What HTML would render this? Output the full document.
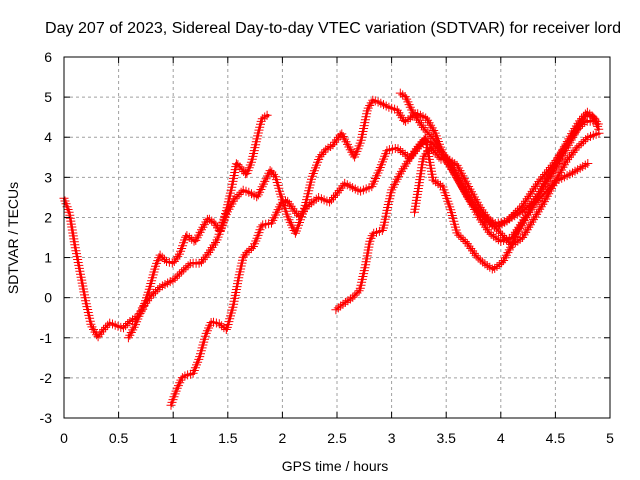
<!DOCTYPE html>
<html><head><meta charset="utf-8"><style>
body{margin:0;background:#fff;}
svg{display:block;font-family:"Liberation Sans",sans-serif;}
</style></head><body>
<svg id="chart" width="640" height="480" viewBox="0 0 640 480">
<rect width="640" height="480" fill="#fff"/>
<text x="333" y="33" font-size="15.5" text-anchor="middle" textLength="576" lengthAdjust="spacingAndGlyphs">Day 207 of 2023, Sidereal Day-to-day VTEC variation (SDTVAR) for receiver lord</text>
<g id="grid"></g>
<g id="series"></g>
<rect x="64" y="57" width="546" height="361" fill="none" stroke="#000" stroke-width="1"/>
<g id="axes"></g>
<text x="335" y="471" font-size="14" text-anchor="middle">GPS time / hours</text>
<text x="18" y="238" font-size="14" text-anchor="middle" transform="rotate(-90 18 238)">SDTVAR / TECUs</text>
</svg>
<script>
const xTicks=[0,0.5,1,1.5,2,2.5,3,3.5,4,4.5,5];
const xTickLabels=["0","0.5","1","1.5","2","2.5","3","3.5","4","4.5","5"];
const yTicks=[-3,-2,-1,0,1,2,3,4,5,6];
const yTickLabels=["-3","-2","-1","0","1","2","3","4","5","6"];
const track1=[[0,2.48],[0.05,2.1],[0.1,1.3],[0.15,0.6],[0.2,-0.1],[0.25,-0.7],[0.31,-0.98],[0.36,-0.8],[0.42,-0.63],[0.48,-0.7],[0.54,-0.76],[0.6,-0.6],[0.66,-0.5],[0.72,-0.3],[0.78,0.2],[0.84,0.8],[0.88,1.06],[0.94,0.9],[1.0,0.86],[1.06,1.1],[1.12,1.56],[1.2,1.39],[1.26,1.7],[1.32,1.98],[1.38,1.85],[1.43,1.64],[1.49,2.2],[1.54,2.8],[1.58,3.36],[1.63,3.2],[1.67,3.06],[1.72,3.4],[1.77,4.0],[1.81,4.45],[1.86,4.55],[1.88,4.55]];
const track2=[[0.59,-1.0],[0.65,-0.7],[0.72,-0.24],[0.8,0.05],[0.88,0.26],[0.94,0.35],[1.0,0.44],[1.08,0.65],[1.16,0.86],[1.25,0.86],[1.32,1.1],[1.4,1.43],[1.49,2.1],[1.56,2.45],[1.64,2.68],[1.7,2.62],[1.77,2.51],[1.83,2.85],[1.89,3.18],[1.94,3.0],[1.98,2.6],[2.05,2.0],[2.12,1.6],[2.2,2.2],[2.27,3.0],[2.34,3.5],[2.4,3.7],[2.46,3.8],[2.54,4.1],[2.6,3.8],[2.66,3.5],[2.72,3.9],[2.78,4.7],[2.83,4.93],[2.9,4.85],[2.97,4.75],[3.05,4.68],[3.12,4.38],[3.18,4.5],[3.23,4.6],[3.32,4.47],[3.4,4.1],[3.47,3.6],[3.6,3.0],[3.7,2.5],[3.8,2.1],[3.95,1.85],[4.05,1.9],[4.2,2.3],[4.35,2.9],[4.5,3.4],[4.6,3.8],[4.7,4.2],[4.78,4.4],[4.85,4.4]];
const track3=[[0.98,-2.68],[1.03,-2.3],[1.08,-2.0],[1.12,-1.93],[1.18,-1.9],[1.24,-1.5],[1.3,-0.9],[1.35,-0.6],[1.42,-0.65],[1.49,-0.8],[1.55,-0.2],[1.6,0.5],[1.64,1.0],[1.68,1.15],[1.73,1.25],[1.77,1.5],[1.81,1.81],[1.9,1.86],[1.99,2.36],[2.04,2.43],[2.1,2.2],[2.16,2.0],[2.22,2.26],[2.33,2.5],[2.43,2.38],[2.5,2.6],[2.57,2.85],[2.64,2.75],[2.71,2.65],[2.82,2.77],[2.89,3.2],[2.96,3.68],[3.05,3.73],[3.17,3.48],[3.3,3.93],[3.37,3.85],[3.5,3.5],[3.6,3.0],[3.7,2.5],[3.8,2.0],[3.9,1.6],[4.0,1.4],[4.1,1.5],[4.2,1.9],[4.3,2.3],[4.4,2.6],[4.5,2.9],[4.65,3.1],[4.8,3.35]];
const track4=[[2.49,-0.3],[2.56,-0.15],[2.64,0.0],[2.71,0.19],[2.76,0.8],[2.8,1.4],[2.83,1.6],[2.92,1.68],[2.96,2.2],[3.0,2.68],[3.08,3.1],[3.17,3.5],[3.25,3.8],[3.31,3.98],[3.38,2.93],[3.47,2.76],[3.54,2.2],[3.6,1.6],[3.69,1.36],[3.78,1.02],[3.85,0.85],[3.93,0.7],[4.02,0.9],[4.08,1.2],[4.15,1.6],[4.25,2.1],[4.35,2.6],[4.45,3.1],[4.55,3.6],[4.65,4.1],[4.72,4.4],[4.79,4.63],[4.85,4.5],[4.9,4.18]];
const track5=[[3.21,2.13],[3.25,2.8],[3.29,3.5],[3.36,3.75],[3.45,3.45],[3.52,3.45],[3.6,3.3],[3.7,2.8],[3.8,2.3],[3.9,1.9],[4.0,1.6],[4.1,1.3],[4.2,1.5],[4.3,1.95],[4.4,2.4],[4.5,2.9],[4.6,3.4],[4.7,3.75],[4.8,4.0],[4.9,4.1]];
const track6=[[3.08,5.1],[3.13,5.0],[3.17,4.75],[3.2,4.6],[3.3,4.2],[3.4,3.9],[3.48,3.5],[3.55,3.2],[3.65,2.75],[3.75,2.3],[3.85,1.95],[3.95,1.75],[4.02,1.85],[4.1,2.0],[4.2,2.15],[4.3,2.4],[4.45,3.0],[4.6,3.7],[4.7,4.2],[4.78,4.55],[4.85,4.5],[4.9,4.3]];
const tracks=[track1,track2,track3,track4,track5,track6];

const NS="http://www.w3.org/2000/svg";
const X0=64,X1=610,Y0=418,Y1=57;
function xs(v){return X0+(v-0)/(5-0)*(X1-X0);}
function ys(v){return Y0-(v+3)/(6+3)*(Y0-Y1);}
const grid=document.getElementById('grid'),axes=document.getElementById('axes'),ser=document.getElementById('series');
function mk(tag,attrs,parent){const e=document.createElementNS(NS,tag);for(const k in attrs)e.setAttribute(k,attrs[k]);parent.appendChild(e);return e;}
xTicks.forEach((t,i)=>{
  const x=xs(t);
  if(i>0&&i<xTicks.length-1){const g=mk('line',{x1:x,x2:x,y1:Y1,y2:Y0,stroke:'#a0a0a0','stroke-dasharray':'3,3','stroke-width':1},grid);
  
  }
  const t1=mk('line',{x1:x,x2:x,y1:Y0,y2:Y0-6,stroke:'#000'},axes);
  
  
  const t2=mk('line',{x1:x,x2:x,y1:Y1,y2:Y1+6,stroke:'#000'},axes);
  
  
  const l=mk('text',{x:x,y:443,'font-size':14,'text-anchor':'middle'},axes);l.textContent=xTickLabels[i];
  
  
});
yTicks.forEach((t,i)=>{
  const y=ys(t);
  if(i>0&&i<yTicks.length-1){const g=mk('line',{x1:X0,x2:X1,y1:y,y2:y,stroke:'#a0a0a0','stroke-dasharray':'3,3','stroke-width':1},grid);
  
  }
  const t1=mk('line',{x1:X0,x2:X0+6,y1:y,y2:y,stroke:'#000'},axes);
  
  
  const t2=mk('line',{x1:X1,x2:X1-6,y1:y,y2:y,stroke:'#000'},axes);
  
  
  const l=mk('text',{x:52,y:y+5,'font-size':14,'text-anchor':'end'},axes);l.textContent=yTickLabels[i];
  
  
});
tracks.forEach((tr,ti)=>{
  const g=mk('g',{},ser);
  
  
  const d=tr.map((p,i)=>(i?'L':'M')+xs(p[0]).toFixed(1)+','+ys(p[1]).toFixed(1)).join(' ');
  const path=mk('path',{d:d,fill:'none',stroke:'#f00','stroke-width':2.5,'stroke-linejoin':'round'},g);
  
  
  const L=path.getTotalLength();
  let md='';
  for(let s=0;s<=L;s+=3){const p=path.getPointAtLength(s);md+='M'+(p.x-4.5).toFixed(1)+','+p.y.toFixed(1)+'h9M'+p.x.toFixed(1)+','+(p.y-4.5).toFixed(1)+'v9';}
  const m=mk('path',{d:md,stroke:'#f00','stroke-width':1,fill:'none'},g);
  
  
});
</script>
</body></html>
